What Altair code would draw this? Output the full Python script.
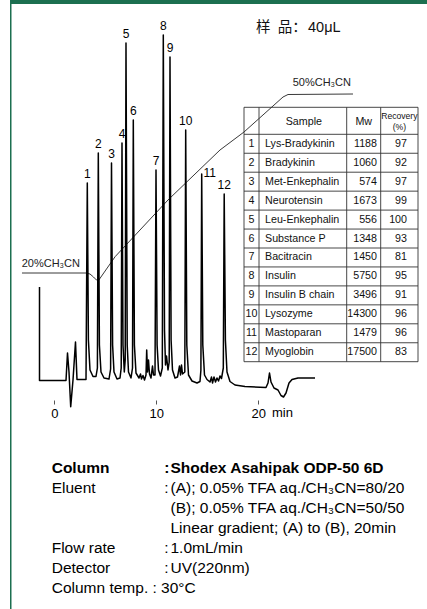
import altair as alt
import pandas as pd

# ---------------- data ----------------
# chromatogram trace: retention time (min) and detector response (arbitrary units)
chrom_t = [-1.451, -1.451, 1.147, 1.294, 1.441, 1.608, 1.833, 2.078, 2.225, 3.108,
           3.235, 3.343, 3.5, 3.794, 4.088, 4.225,
           4.314, 4.422, 4.578, 4.873, 5.363, 5.52,
           5.608, 5.716, 5.853, 6.147, 6.441, 6.559,
           6.637, 6.735, 6.863, 6.951,
           7.029, 7.147, 7.275, 7.52, 7.667,
           7.745, 7.853, 8.01, 8.304, 8.451, 8.549, 8.696, 8.843, 8.99, 9.059, 9.137,
           9.235, 9.333, 9.48, 9.627, 9.725, 9.873,
           9.971, 10.078, 10.216, 10.412, 10.588,
           10.686, 10.804, 10.902, 11.0, 11.147, 11.265,
           11.343, 11.451, 11.588, 11.833, 12.078, 12.275, 12.373, 12.471, 12.569, 12.794,
           12.882, 12.99, 13.157, 13.5, 13.99, 14.284, 14.373,
           14.451, 14.559, 14.725, 14.971, 15.265, 15.412, 15.51, 15.657, 15.804, 15.951,
           16.098, 16.245, 16.392, 16.569,
           16.657, 16.775, 16.931, 17.225, 17.716, 18.696, 20.755, 20.951, 21.098, 21.245,
           21.539, 21.931, 22.225, 22.471, 22.716, 23.01, 23.304, 23.892, 25.559]
chrom_s = [93.5, 0, 0, 27.5, 8.5, -26.2, 0.5, 38.5, 1, 1,
           197.5, 40.5, 10.5, 4, 4, 12.5,
           227.5, 35.5, 8.5, 2.5, 1.5, 11.5,
           217.5, 35.5, 8.5, 1.5, 2.5, 12.5,
           237.5, 35.5, 8.5, 20.5,
           337.5, 35.5, 8.5, 2.5, 12.5,
           260.5, 35.5, 7.5, 2.5, 6.5, 1.5, 5, 0.5, 5.5, 30.5, 8.5,
           20.5, 6.5, 2.5, 14.5, 5.5, 5.5,
           210.5, 35.5, 10.5, 4.5, 12.5,
           345.5, 50.5, 15.5, 24.5, 10.5, 18.5,
           323.5, 40.5, 10.5, 2.5, 3.5, 14.5, 5.5, 15.5, 6.5, 8.5,
           250.5, 35.5, 5.5, -0.5, -2.5, -1, 10.5,
           206.5, 35.5, 5.5, 1, -1.5, 3.5, -2.5, 3.5, -1.5, 2.5,
           -0.5, 4.5, 2, 12.5,
           186.5, 40.5, 8.5, -1, -4.5, -6, -7, -2.5, 7.5, -1.5,
           -7.5, -9.5, -15, -16.5, -12.5, -2.5, 1, 2.5, 2.5]

peak_no = list(range(1, 13))
peak_t = [3.235, 4.314, 5.608, 6.637, 7.029, 7.745, 9.971, 10.686, 11.343, 12.882, 14.451, 16.657]
peak_h = [197.5, 227.5, 217.5, 237.5, 337.5, 260.5, 210.5, 345.5, 323.5, 250.5, 206.5, 186.5]

# gradient profile drawn over the trace (same axes)
grad_t = [-3.167, 3.108, 3.5, 3.843, 4.137, 4.333, 5.961, 11.147, 16.245, 18.598, 22.422, 22.912, 29.284]
grad_s = [107.5, 107.5, 106.5, 103.5, 100.5, 100.0, 123.8, 180.5, 230.5, 248.5, 283.5, 286.0, 286.5]
grad_labels = ["20%CH₃CN", "50%CH₃CN"]
grad_label_t = [-3.197, 23.37]
grad_label_s = [116.5, 297.2]

x_ticks = [0, 10, 20]

samples = ["Lys-Bradykinin", "Bradykinin", "Met-Enkephalin", "Neurotensin", "Leu-Enkephalin",
           "Substance P", "Bacitracin", "Insulin", "Insulin B chain", "Lysozyme",
           "Mastoparan", "Myoglobin"]
mw = [1188, 1060, 574, 1673, 556, 1348, 1450, 5750, 3496, 14300, 1479, 17500]
recovery = [97, 92, 97, 99, 100, 93, 81, 95, 91, 96, 96, 83]

cond_labels = ["Column", "Eluent", "", "", "Flow rate", "Detector", "Column temp. : 30°C"]
cond_colon = [True, True, False, False, True, True, False]
cond_values = ["Shodex Asahipak ODP-50 6D", "(A); 0.05% TFA aq./CH₃CN=80/20",
               "(B); 0.05% TFA aq./CH₃CN=50/50", "Linear gradient; (A) to (B), 20min",
               "1.0mL/min", "UV(220nm)", ""]

sample_note_cjk = "样\u2002品："
sample_note_amt = "40μL"

# ---------------- layout ----------------
W, H = 427, 400
TOTAL_H = 609
PX_PER_MIN = 10.2
X0 = 54.3        # pixel of t = 0
BASE = 380.5     # pixel of response = 0
FONT = "Liberation Sans"
GREEN = "#1c6f50"

x_dom = [-X0 / PX_PER_MIN, (W - X0) / PX_PER_MIN]
y_dom = [BASE - H, BASE]
xs = alt.Scale(domain=x_dom, nice=False, zero=False)
ys = alt.Scale(domain=y_dom, nice=False, zero=False)
x_axis = alt.Axis(values=x_ticks, title=None, grid=False, domain=False, ticks=True,
                  tickSize=4, tickColor="#555", tickWidth=1, labelFont=FONT,
                  labelFontSize=13, labelColor="black", labelPadding=3,
                  labelFlush=False, labelOverlap=False, format="d")

def X(f):
    return alt.X(f, scale=xs, axis=x_axis)

def Y(f):
    return alt.Y(f, scale=ys, axis=None)

def PX(f):
    return alt.X(f, scale=None, axis=None)

def PY(f):
    return alt.Y(f, scale=None, axis=None)

# ---------------- chromatogram ----------------
chrom_df = pd.DataFrame({"t": chrom_t, "s": chrom_s, "i": range(len(chrom_t))})
trace = alt.Chart(chrom_df).mark_line(color="black", strokeWidth=1.5, clip=False,
                                      strokeJoin="round").encode(
    x=X("t:Q"), y=Y("s:Q"), order=alt.Order("i:Q"))

peak_df = pd.DataFrame({"no": peak_no, "t": peak_t, "h": peak_h})
peak_labels = alt.Chart(peak_df).mark_text(font=FONT, fontSize=12, color="black",
                                           baseline="alphabetic", dy=-5).encode(
    x=X("t:Q"), y=Y("h:Q"), text="no:N").transform_filter(alt.datum.no != 11)
peak_label11 = alt.Chart(peak_df).mark_text(font=FONT, fontSize=12, color="black",
                                            baseline="alphabetic", dx=8, dy=3).encode(
    x=X("t:Q"), y=Y("h:Q"), text="no:N").transform_filter(alt.datum.no == 11)

grad_df = pd.DataFrame({"t": grad_t, "s": grad_s, "i": range(len(grad_t))})
grad = alt.Chart(grad_df).mark_line(color="#222", strokeWidth=0.9, clip=False).encode(
    x=X("t:Q"), y=Y("s:Q"), order=alt.Order("i:Q"))
grad_lab_df = pd.DataFrame({"t": grad_label_t, "s": grad_label_s, "lab": grad_labels})
grad_lab = alt.Chart(grad_lab_df).mark_text(font=FONT, fontSize=11, color="#222",
                                            align="left", baseline="middle").encode(
    x=X("t:Q"), y=Y("s:Q"), text="lab:N")

min_lab = alt.Chart(pd.DataFrame({"t": [22.37], "lab": ["min"]})).mark_text(
    font=FONT, fontSize=13, color="black", baseline="middle").encode(
    x=X("t:Q"), y=alt.value(413), text="lab:N")

# ---------------- frame ----------------
one = pd.DataFrame({"a": [0]})
top_band = alt.Chart(one).mark_rect(color=GREEN).encode(
    x=alt.value(10), x2=alt.value(W), y=alt.value(0), y2=alt.value(4))
left_line = alt.Chart(one).mark_rect(color=GREEN).encode(
    x=alt.value(10), x2=alt.value(11.5), y=alt.value(0), y2=alt.value(TOTAL_H))

note_cjk = alt.Chart(one).mark_text(font="Noto Sans CJK SC", fontSize=14.5, color="#111",
                                    align="left", baseline="middle").encode(
    x=alt.value(256), y=alt.value(28), text=alt.value(sample_note_cjk))
note_amt = alt.Chart(one).mark_text(font=FONT, fontSize=14.5, color="#111",
                                    align="left", baseline="middle").encode(
    x=alt.value(308), y=alt.value(28), text=alt.value(sample_note_amt))

# ---------------- table ----------------
TX = [244, 259, 346.7, 380.7, 418]
TY0, THEAD, TROW = 107.3, 134.3, 18.95
n = len(samples)
hy = [TY0, THEAD] + [THEAD + k * TROW for k in range(1, n + 1)]
h_df = pd.DataFrame({"x": [TX[0]] * len(hy), "x2": [TX[-1]] * len(hy), "y": hy})
v_df = pd.DataFrame({"x": TX, "y": [TY0] * len(TX), "y2": [THEAD + n * TROW] * len(TX)})
hrules = alt.Chart(h_df).mark_rule(color="#333", strokeWidth=0.9).encode(
    x=PX("x:Q"), x2="x2:Q", y=PY("y:Q"))
vrules = alt.Chart(v_df).mark_rule(color="#333", strokeWidth=0.9).encode(
    x=PX("x:Q"), y=PY("y:Q"), y2="y2:Q")

row_df = pd.DataFrame({"no": peak_no, "sample": samples, "mw": mw, "rec": recovery,
                       "y": [THEAD + (k + 0.5) * TROW for k in range(n)]})
row_df["x_no"] = (TX[0] + TX[1]) / 2
row_df["x_sample"] = TX[1] + 6
row_df["x_mw"] = TX[3] - 3.7
row_df["x_rec"] = TX[4] - 11

def col_text(field, xfield, align):
    return alt.Chart(row_df).mark_text(font=FONT, fontSize=10.7, color="#111",
                                       align=align, baseline="middle").encode(
        x=PX(f"{xfield}:Q"), y=PY("y:Q"), text=f"{field}:N")

t_no = col_text("no", "x_no", "center")
t_sample = col_text("sample", "x_sample", "left")
t_mw = col_text("mw", "x_mw", "right")
t_rec = col_text("rec", "x_rec", "right")

head_df = pd.DataFrame({"lab": ["Sample", "Mw"],
                        "x": [(TX[1] + TX[2]) / 2 + 1, (TX[2] + TX[3]) / 2],
                        "y": [(TY0 + THEAD) / 2 + 0.8] * 2})
t_head = alt.Chart(head_df).mark_text(font=FONT, fontSize=10.7, color="#111",
                                      baseline="middle").encode(
    x=PX("x:Q"), y=PY("y:Q"), text="lab:N")
rec_head_df = pd.DataFrame({"lab": ["Recovery", "(%)"],
                            "x": [(TX[3] + TX[4]) / 2] * 2,
                            "y": [TY0 + 8.2, TY0 + 19.2]})
t_head2 = alt.Chart(rec_head_df).mark_text(font=FONT, fontSize=8.6, color="#111",
                                           baseline="middle").encode(
    x=PX("x:Q"), y=PY("y:Q"), text="lab:N")

# ---------------- conditions block ----------------
C_X_LAB, C_X_COLON, C_X_VAL, C_Y0, C_DY, C_FS = 51.7, 164.3, 170.5, 468.3, 20, 15.5
cond_df = pd.DataFrame({"lab": cond_labels, "val": cond_values, "colon": cond_colon,
                        "row": range(len(cond_labels))})
cond_df["y"] = C_Y0 + C_DY * cond_df["row"]
cond_df["xl"] = C_X_LAB
cond_df["xc"] = C_X_COLON
cond_df["xv"] = C_X_VAL
cond_df["c"] = ":"

def cond_layer(field, xfield, bold, filt):
    return alt.Chart(cond_df).mark_text(
        font=FONT, fontSize=C_FS, color="black", align="left", baseline="middle",
        fontWeight="bold" if bold else "normal").encode(
        x=PX(f"{xfield}:Q"), y=PY("y:Q"), text=f"{field}:N").transform_filter(filt)

c_lab_b = cond_layer("lab", "xl", True, alt.datum.row == 0)
c_lab = cond_layer("lab", "xl", False, alt.datum.row > 0)
c_col_b = cond_layer("c", "xc", True, alt.datum.row == 0)
c_col = cond_layer("c", "xc", False, (alt.datum.row > 0) & alt.datum.colon)
c_val_b = cond_layer("val", "xv", True, alt.datum.row == 0)
c_val = cond_layer("val", "xv", False, alt.datum.row > 0)

chart = alt.layer(
    top_band, left_line, note_cjk, note_amt,
    grad, grad_lab, trace, peak_labels, peak_label11, min_lab,
    hrules, vrules, t_head, t_head2, t_no, t_sample, t_mw, t_rec,
    c_lab_b, c_lab, c_col_b, c_col, c_val_b, c_val,
).properties(
    width=W, height=H,
    padding={"left": 0, "top": 0, "right": 0, "bottom": TOTAL_H - H},
    autosize=alt.AutoSizeParams(type="none"),
    background="white",
).configure_view(stroke=None)

chart.save("out.html", embed_options={"renderer": "svg", "actions": False})
